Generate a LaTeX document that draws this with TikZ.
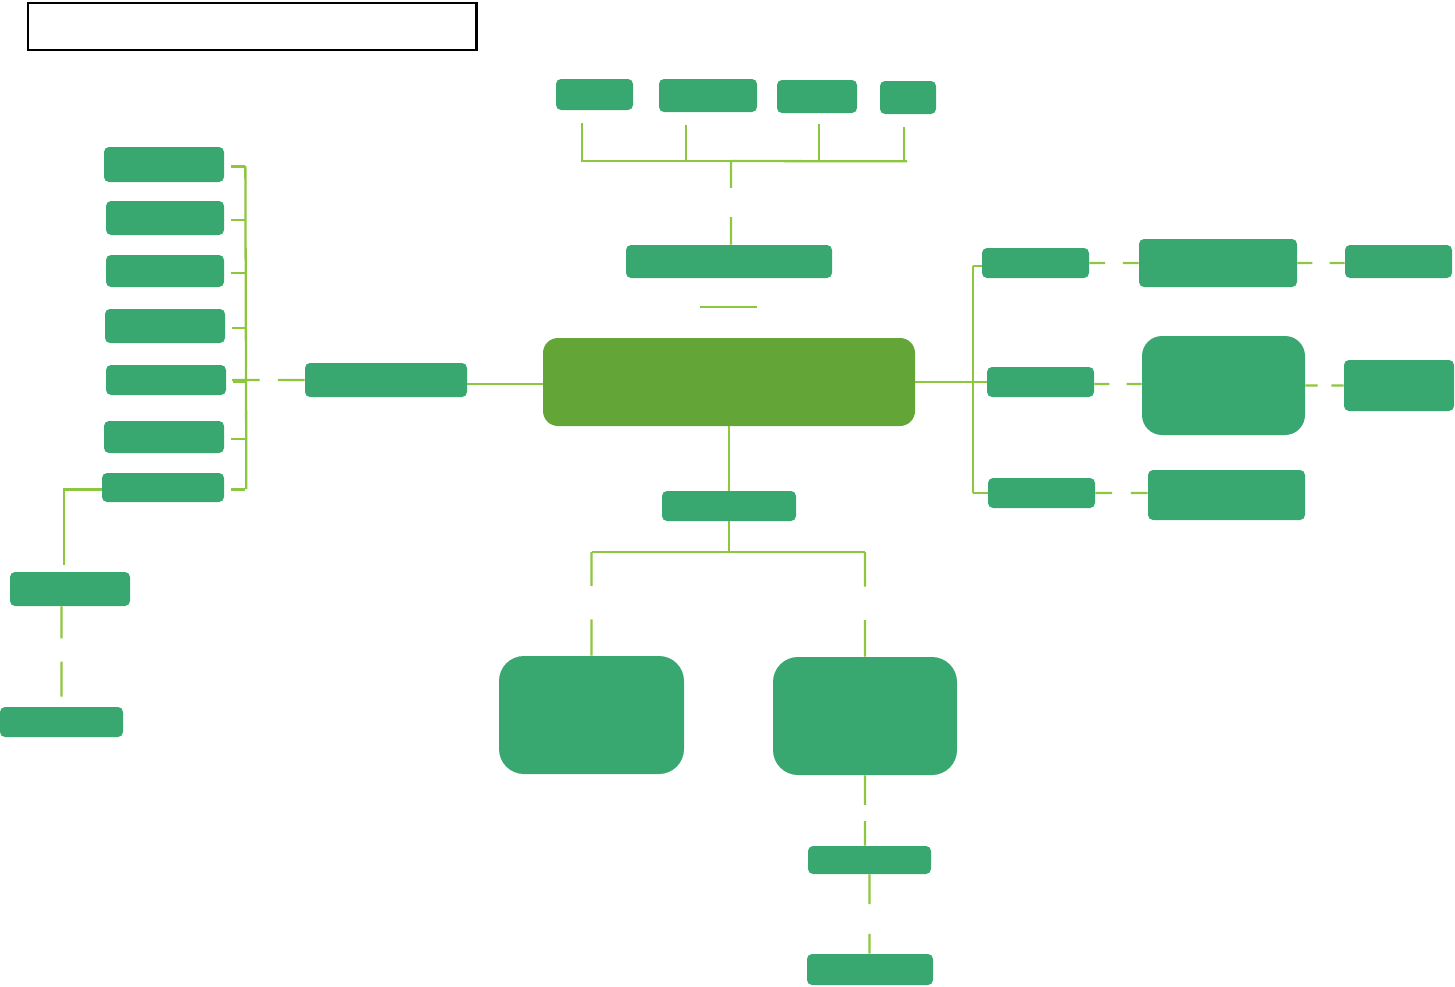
\documentclass[tikz,border=0pt]{standalone}
\usepackage{tikz}
\usetikzlibrary{calc}
\definecolor{boxgreen}{RGB}{56,168,112}
\definecolor{hubgreen}{RGB}{99,165,55}
\definecolor{linegreen}{RGB}{141,198,63}
\tikzset{
  sz/.style 2 args={minimum width=#1*0.02cm, minimum height=#2*0.02cm},
  box/.style={fill=boxgreen, draw=none, inner sep=0pt, rounded corners=0.1cm},
  bigbox/.style={box, rounded corners=0.5cm},
  titlebox/.style={draw=black, line width=0.06cm, inner sep=0pt},
  link/.style={draw=linegreen, line width=1.3pt},
  split/.style 2 args={to path={(\tikztostart) -- ($(\tikztostart)!#1!(\tikztotarget)$)
      ($(\tikztostart)!#2!(\tikztotarget)$) -- (\tikztotarget)}},
  gapped/.style={split={0.32}{0.68}}
}
\begin{document}
\begin{tikzpicture}[x=0.02cm, y=-0.02cm]
    \useasboundingbox (0,0) rectangle (1455,987);

    % 标题框
    \node[titlebox, sz={448}{47}] (title) at (252,26.5) {};

    % 中心与上方
    \node[box, rounded corners=0.3cm, fill=hubgreen, sz={372}{88}] (C) at (729,382) {};
    \node[box, sz={206}{33}] (B) at (729,261.5) {};
    \node[box, sz={77}{31}] (A1) at (594.5,94.5) {};
    \node[box, sz={98}{33}] (A2) at (708,95.5) {};
    \node[box, sz={80}{33}] (A3) at (817,96.5) {};
    \node[box, sz={56}{33}] (A4) at (908,97.5) {};

    % 左侧
    \node[box, sz={162}{34}] (D) at (386,380) {};
    \node[box, sz={120}{35}] (L1) at (164,164.5) {};
    \node[box, sz={118}{34}] (L2) at (165,218) {};
    \node[box, sz={118}{32}] (L3) at (165,271) {};
    \node[box, sz={120}{34}] (L4) at (165,326) {};
    \node[box, sz={120}{30}] (L5) at (166,380) {};
    \node[box, sz={120}{32}] (L6) at (164,437) {};
    \node[box, sz={122}{29}] (L7) at (163,487.5) {};
    \node[box, sz={120}{34}] (M) at (70,589) {};
    \node[box, sz={123}{30}] (N) at (61.5,722) {};

    % 右侧
    \node[box, sz={107}{30}] (R1) at (1035.5,263) {};
    \node[box, sz={107}{30}] (R2) at (1040.5,382) {};
    \node[box, sz={107}{30}] (R3) at (1041.5,493) {};
    \node[box, sz={158}{48}] (S1) at (1218,263) {};
    \node[box, rounded corners=0.4cm, sz={163}{99}] (S2) at (1223.5,385.5) {};
    \node[box, sz={157}{50}] (S3) at (1226.5,495) {};
    \node[box, sz={107}{33}] (T1) at (1398.5,261.5) {};
    \node[box, sz={110}{51}] (T2) at (1399,385.5) {};

    % 下方
    \node[box, sz={134}{30}] (E) at (729,506) {};
    \node[bigbox, sz={185}{118}] (F) at (591.5,715) {};
    \node[bigbox, sz={184}{118}] (G) at (865,716) {};
    \node[box, sz={123}{28}] (H) at (869.5,860) {};
    \node[box, sz={126}{31}] (I) at (870,969.5) {};

    % 上方连线
    \coordinate (topbar) at (731,161);
    \foreach \b/\dx/\dy in {A1/-12.5/13, A2/-22/13, A3/2/11, A4/-4/13}
        \draw[link] ($(\b.south)+(\dx,\dy)$) |- (topbar);
    \draw[link] (topbar) -- ($(A4.south)+(-1,47)$);
    \draw[link, split={0.32}{0.67}] (topbar) to (topbar |- B.north);
    \draw[link] ($(B.south)+(-29,29)$) -- ($(B.south)+(28,29)$);

    % 左侧连线
    \coordinate (lbar) at (245,380);
    \draw[link] ($(D.east)+(0,4)$) -- ($(D.east -| C.west)+(0,4)$);
    \draw[link, split={0.37}{0.62}] (D.west) to ($(lbar)+(-13,0)$);
    \draw[link] ($(L1.east)+(21,1.5)$) -- ($(L7.east)+(22,1.5)$);
    \foreach \l in {L1,L2,L3,L4,L5,L6,L7}
        \draw[link] ($(\l.east)+(7,2)$) -- ($(\l.east -| lbar)+(0,2)$);
    \draw[link] ($(L7.west)+(0,2)$) -| ($(M.north)+(-6,-7)$);
    \draw[link, split={0.32}{0.55}, shorten >=0.2cm] (M.south -| N.north) to (N.north);

    % 右侧连线
    \coordinate (rbar) at (973,384);
    \draw[link] (C.east) -- (R2.west);
    \draw[link] ($(R1.west -| rbar)+(0,3)$) -- (R3.west -| rbar);
    \draw[link] ($(R1.west -| rbar)+(0,3)$) -- ($(R1.west)+(0,3)$);
    \draw[link] (R3.west -| rbar) -- (R3.west);
    \draw[link, gapped] (R1.east) to (R1.east -| S1.west);
    \draw[link, gapped] (S1.east) to (S1.east -| T1.west);
    \draw[link, gapped] ($(R2.east)+(0,2)$) to ($(R2.east -| S2.west)+(0,2)$);
    \draw[link, gapped] (S2.east) to (S2.east -| T2.west);
    \draw[link, gapped] (R3.east) to (R3.east -| S3.west);

    % 下方连线
    \coordinate (midbar) at (729,552);
    \coordinate (Fdrop) at (F.north |- midbar);
    \coordinate (Gdrop) at (G.north |- midbar);
    \draw[link] (C.south) -- (E.north);
    \draw[link] (E.south) -- (midbar);
    \draw[link] (Fdrop) -- (Gdrop);
    \draw[link, split={0.33}{0.65}] (Fdrop) to (F.north);
    \draw[link, split={0.33}{0.65}] (Gdrop) to (G.north);
    \draw[link, split={0.42}{0.65}] (G.south) to (G.south |- H.north);
    \draw[link, split={0.375}{0.75}] (H.south) to (H.south |- I.north);
\end{tikzpicture}
\end{document}
